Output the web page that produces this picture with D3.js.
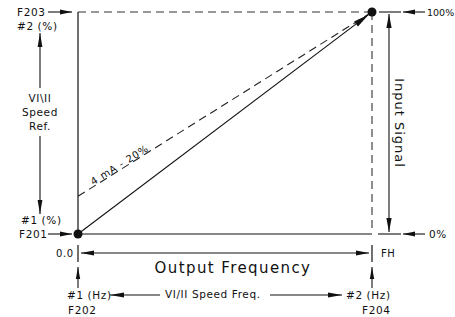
<!DOCTYPE html>
<html>
<head>
<meta charset="utf-8">
<script src="https://cdn.jsdelivr.net/npm/d3@7"></script>
<style>
  html, body { margin: 0; padding: 0; background: #fff; }
  text { font-family: "DejaVu Sans", sans-serif; fill: #111; }
</style>
</head>
<body>
<div id="chart"></div>
<script>
// data (output frequency 0..FH as 0..1, input signal in %)
const freqDomain = [0, 1];
const signalDomain = [0, 100];
const freqTickLabels = ['0.0', 'FH'];
const signalTickLabels = ['0%', '100%'];
const solidLine = [{ f: 0, s: 0 }, { f: 1, s: 100 }];
const offsetLine = [{ f: 0, s: 17 }, { f: 1, s: 100 }];   // 4 mA - 20%
const endDots = [{ f: 0, s: 0 }, { f: 1, s: 100 }];

const W = 455, H = 317;
const svg = d3.select('#chart').append('svg').attr('width', W).attr('height', H);

const x = d3.scaleLinear().domain(freqDomain).range([78, 372]);
const y = d3.scaleLinear().domain(signalDomain).range([234, 12]);

const x0 = x(0), x1 = x(1), y0 = y(0), y1 = y(100);

// line with filled arrowheads
function arrow(ax, ay, bx, by, opts = {}) {
  const len = opts.len || 12, hw = opts.hw || 2.6;
  svg.append('line').attr('x1', ax).attr('y1', ay).attr('x2', bx).attr('y2', by)
    .attr('stroke', '#111').attr('stroke-width', 1.1);
  const head = (tx, ty, fx, fy) => {
    const a = Math.atan2(ty - fy, tx - fx);
    const bxp = tx - len * Math.cos(a), byp = ty - len * Math.sin(a);
    const px = -Math.sin(a) * hw, py = Math.cos(a) * hw;
    svg.append('path')
      .attr('d', `M${tx},${ty}L${bxp + px},${byp + py}L${bxp - px},${byp - py}Z`)
      .attr('fill', '#111');
  };
  head(bx, by, ax, ay);
  if (opts.both) head(ax, ay, bx, by);
}

function label(t, tx, ty, size = 10.5, anchor = 'start') {
  return svg.append('text').attr('x', tx).attr('y', ty).attr('font-size', size)
    .attr('text-anchor', anchor).attr('dominant-baseline', 'middle')
    .attr('letter-spacing', 0.6).text(t);
}

// --- frame ---
svg.append('line').attr('x1', x0).attr('y1', y1).attr('x2', x1).attr('y2', y1)
  .attr('stroke', '#333').attr('stroke-width', 1.1).attr('stroke-dasharray', '8,5');
svg.append('line').attr('x1', x1).attr('y1', y1).attr('x2', x1).attr('y2', y0 - 2)
  .attr('stroke', '#333').attr('stroke-width', 1.1).attr('stroke-dasharray', '8,5');
svg.append('line').attr('x1', x0).attr('y1', y1).attr('x2', x0).attr('y2', y0)
  .attr('stroke', '#111').attr('stroke-width', 1.2);
svg.append('line').attr('x1', x0).attr('y1', y0).attr('x2', x1).attr('y2', y0)
  .attr('stroke', '#111').attr('stroke-width', 1.2);

// --- lines ---
const line = d3.line().x(d => x(d.f)).y(d => y(d.s));
svg.append('path').datum(offsetLine).attr('d', line)
  .attr('fill', 'none').attr('stroke', '#222').attr('stroke-width', 1.1)
  .attr('stroke-dasharray', '8,5');

// solid line ending in an arrowhead just short of the end dot
const sA = solidLine[0], sB = solidLine[1];
const ang = Math.atan2(y(sB.s) - y(sA.s), x(sB.f) - x(sA.f));
arrow(x(sA.f), y(sA.s), x(sB.f) - 4 * Math.cos(ang), y(sB.s) - 4 * Math.sin(ang), { len: 16, hw: 3.2 });

// label along dashed line
const dA = offsetLine[0], dB = offsetLine[1];
const dAng = Math.atan2(y(dB.s) - y(dA.s), x(dB.f) - x(dA.f)) * 180 / Math.PI;
const lx = x(dA.f) + 44, ly = y(dA.s) + (y(dB.s) - y(dA.s)) * 44 / (x(dB.f) - x(dA.f));
svg.append('text').attr('transform', `translate(${lx},${ly}) rotate(${dAng})`)
  .attr('x', 0).attr('y', -1).attr('font-size', 10).attr('text-anchor', 'middle')
  .attr('letter-spacing', 0.8).text('4 mA - 20%');

svg.selectAll('circle.dot').data(endDots).join('circle').attr('class', 'dot')
  .attr('cx', d => x(d.f)).attr('cy', d => y(d.s)).attr('r', 4.5).attr('fill', '#111');

// --- left annotations ---
label('F203', 17, y1 + 1);
arrow(48, y1, x0 - 6, y1, { len: 12, hw: 2.4 });
label('#2 (%)', 17, 27);
arrow(40, 88, 40, 33, { len: 14, hw: 2.4 });
label('VI\\II', 40, 99, 10.5, 'middle');
label('Speed', 40, 113, 10.5, 'middle');
label('Ref.', 40, 127, 10.5, 'middle');
arrow(40, 136, 40, 214, { len: 14, hw: 2.4 });
label('#1 (%)', 21, 221);
label('F201', 19, y0 + 1);
arrow(48, y0, x0 - 6, y0, { len: 12, hw: 2.4 });

// --- right annotations ---
svg.append('line').attr('x1', 379).attr('y1', y1).attr('x2', 401).attr('y2', y1)
  .attr('stroke', '#111').attr('stroke-width', 1.1);
svg.append('line').attr('x1', 378).attr('y1', y0).attr('x2', 401).attr('y2', y0)
  .attr('stroke', '#111').attr('stroke-width', 1.1);
arrow(389, y1 + 2, 389, y0 - 2, { len: 14, hw: 2.6, both: true });
arrow(425, y1, 403, y1, { len: 12, hw: 2.4 });
arrow(425, y0, 403, y0, { len: 12, hw: 2.4 });
label(signalTickLabels[1], 427, y1 + 1, 9.5).attr('letter-spacing', 0);
label(signalTickLabels[0], 429, y0 + 1);
svg.append('text').attr('transform', `translate(398,${(y0 + y1) / 2}) rotate(90)`)
  .attr('font-size', 13).attr('text-anchor', 'middle').attr('dominant-baseline', 'middle')
  .attr('letter-spacing', 1).text('Input Signal');

// --- bottom annotations ---
svg.selectAll('line.ftick').data(freqDomain).join('line').attr('class', 'ftick')
  .attr('x1', d => x(d)).attr('x2', d => x(d)).attr('y1', 245).attr('y2', 262)
  .attr('stroke', '#111').attr('stroke-width', 1.2);
label(freqTickLabels[0], 56, 254, 10);
label(freqTickLabels[1], 381, 254, 10);
arrow(x0 + 3, 253, x1 - 3, 253, { len: 13, hw: 2.6, both: true });
label('Output Frequency', (x0 + x1) / 2 + 8, 268, 15, 'middle').attr('letter-spacing', 1.4);

svg.selectAll('g.fup').data(freqDomain).join('g').attr('class', 'fup')
  .each(function (d) { arrow(x(d), 288, x(d), 267, { len: 12, hw: 2.2 }); });

label('#1 (Hz)', 67, 296);
arrow(160, 295, 110, 295, { len: 14, hw: 2.4 });
label('VI/II Speed Freq.', 165, 295);
arrow(270, 295, 342, 295, { len: 14, hw: 2.4 });
label('#2 (Hz)', 346, 296);
label('F202', 68, 311);
label('F204', 362, 311);
</script>
</body>
</html>
